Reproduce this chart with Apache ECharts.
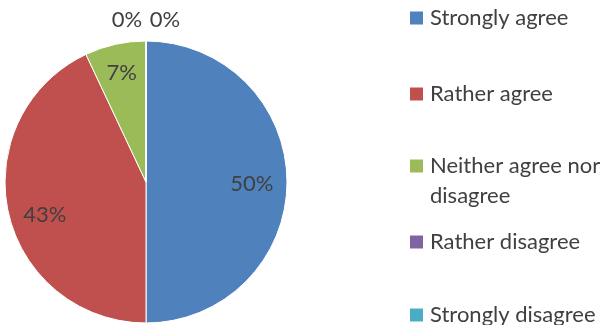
<!DOCTYPE html>
<html><head><meta charset="utf-8">
<script src="https://cdn.jsdelivr.net/npm/echarts@6/dist/echarts.min.js"></script>
<style>html,body{margin:0;padding:0;background:#fff}#c{width:603px;height:325px}</style>
</head><body><div id="c"></div>
<script>
const categories = ['Strongly agree', 'Rather agree', 'Neither agree nor disagree', 'Rather disagree', 'Strongly disagree'];
const values = [50, 43, 7, 0, 0];
const legendLines = [['Strongly agree'], ['Rather agree'], ['Neither agree nor', 'disagree'], ['Rather disagree'], ['Strongly disagree']];
const colors = ['#4F81BD', '#C0504D', '#9BBB59', '#8064A2', '#4BACC6'];

const CX = 146, CY = 182, R = 141;
const labelRadius = [0.75, 0.75, 0.79, 1.15, 1.15];
const labelShiftX = [0, 2, 0, -19, 19];
const labelShiftY = [2, 10, 0, 0, 0];
const markerCenters = [18, 94, 166, 242, 315];
const FONT = 'Lato';
const FS = 22;
const LH = 30;
const TXT = '#404040';

const total = values.reduce((a, b) => a + b, 0);
const starts = [];
values.reduce((acc, v) => { starts.push(acc); return acc + v; }, 0);

const legends = categories.map((name, i) => {
  const lines = legendLines[i];
  // for multi-line entries, pad with empty lines above so the first line sits level with the marker
  const padded = [];
  for (let k = 1; k < lines.length; k++) padded.push(' ');
  const all = padded.concat(lines);
  const h = all.length * LH;
  return {
    orient: 'vertical',
    left: 410,
    top: markerCenters[i] - h / 2,
    padding: 0,
    itemWidth: 13, itemHeight: 13,
    icon: 'rect',
    itemStyle: { borderWidth: 0 },
    data: [name],
    formatter: () => all.map(s => '{t|' + s + '}').join('\n'),
    textStyle: {
      fontFamily: FONT, fontSize: FS, color: TXT, lineHeight: LH,
      rich: { t: { fontFamily: FONT, fontSize: FS, color: TXT, lineHeight: LH, padding: [0, 0, 0, 2] } }
    }
  };
});

const chart = echarts.init(document.getElementById('c'));
chart.setOption({
  animation: false,
  color: colors,
  legend: legends,
  series: [{
    type: 'pie',
    center: [CX, CY],
    radius: R,
    startAngle: 90,
    clockwise: true,
    avoidLabelOverlap: false,
    itemStyle: { borderColor: '#fff', borderWidth: 1 },
    label: {
      show: true, position: 'inside',
      formatter: '{d}%',
      fontFamily: FONT, fontSize: FS, color: TXT
    },
    labelLine: { show: false },
    emphasis: { disabled: true },
    labelLayout: function (p) {
      const i = p.dataIndex;
      const mid = (starts[i] + values[i] / 2) / total * 2 * Math.PI;
      const f = labelRadius[i] * R;
      return {
        x: CX + f * Math.sin(mid) + labelShiftX[i],
        y: CY - f * Math.cos(mid) + labelShiftY[i],
        align: 'center', verticalAlign: 'middle'
      };
    },
    data: categories.map((n, i) => ({ name: n, value: values[i] }))
  }]
});
</script></body></html>
